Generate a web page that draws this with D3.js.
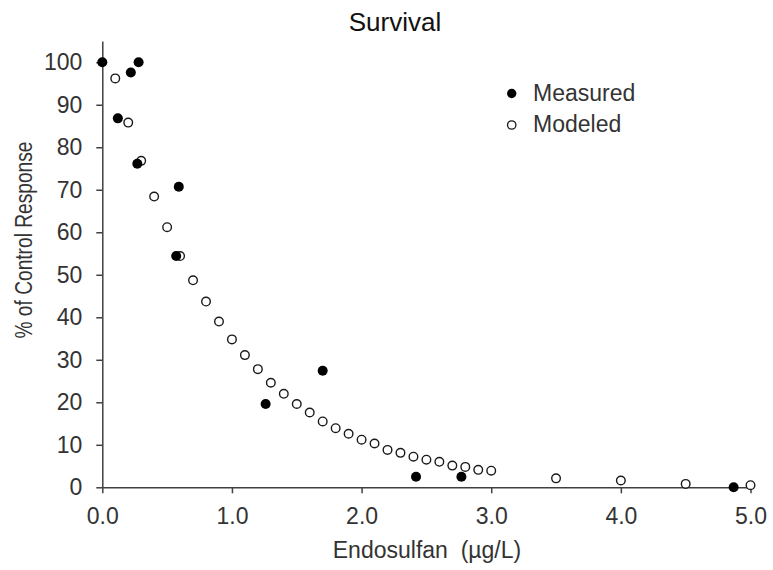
<!DOCTYPE html>
<html>
<head>
<meta charset="utf-8">
<script src="https://cdn.jsdelivr.net/npm/d3@7"></script>
<style>
  html, body { margin: 0; padding: 0; background: #fff; }
  svg { display: block; }
  text { font-family: "Liberation Sans", Arial, sans-serif; }
</style>
</head>
<body>
<svg id="chart" width="773" height="570"></svg>
<script>
// ---- data ----
const measuredX = [0, 0.12, 0.22, 0.28, 0.27, 0.59, 0.57, 1.26, 1.70, 2.42, 2.77, 4.87];
const measuredY = [100, 86.8, 97.6, 100, 76.1, 70.7, 54.4, 19.6, 27.4, 2.5, 2.5, 0];

const modeledX = [0.1, 0.2, 0.3, 0.4, 0.5, 0.6, 0.7, 0.8, 0.9, 1.0,
                  1.1, 1.2, 1.3, 1.4, 1.5, 1.6, 1.7, 1.8, 1.9, 2.0,
                  2.1, 2.2, 2.3, 2.4, 2.5, 2.6, 2.7, 2.8, 2.9, 3.0,
                  3.5, 4.0, 4.5, 5.0];
const modeledY = [96.2, 85.8, 76.8, 68.4, 61.2, 54.4, 48.7, 43.7, 39.0, 34.8,
                  31.1, 27.8, 24.6, 22.0, 19.6, 17.6, 15.5, 13.9, 12.6, 11.2,
                  10.3, 8.8, 8.1, 7.2, 6.5, 6.0, 5.1, 4.8, 4.1, 3.9,
                  2.1, 1.6, 0.8, 0.5];

const xTicks = [0, 1, 2, 3, 4, 5];
const yTicks = [0, 10, 20, 30, 40, 50, 60, 70, 80, 90, 100];

const titleText = "Survival";
const xLabel = "Endosulfan  (\u00B5g/L)";
const yLabel = "% of Control Response";
const seriesNames = ["Measured", "Modeled"];

// ---- drawing ----
const svg = d3.select("#chart");
const axisColor = "#404040";
const textColor = "#333333";

const x = d3.scaleLinear().domain([0, 5]).range([102.3, 750.5]);
const y = d3.scaleLinear().domain([0, 105]).range([487.3, 41]);

const measured = measuredX.map((v, i) => ({x: v, y: measuredY[i]}));
const modeled = modeledX.map((v, i) => ({x: v, y: modeledY[i]}));

// x axis
const gx = svg.append("g")
  .attr("transform", `translate(0,${y(0)})`)
  .call(d3.axisBottom(x).tickValues(xTicks).tickFormat(d3.format(".1f"))
        .tickSize(6).tickSizeOuter(0).tickPadding(14));
// y axis
const gy = svg.append("g")
  .attr("transform", `translate(${x(0)},0)`)
  .call(d3.axisLeft(y).tickValues(yTicks).tickFormat(d3.format("d"))
        .tickSize(6).tickSizeOuter(0).tickPadding(14));

[gx, gy].forEach(g => {
  g.select(".domain").attr("stroke", axisColor).attr("stroke-width", 1.5);
  g.selectAll(".tick line").attr("stroke", axisColor).attr("stroke-width", 1.5);
  g.selectAll(".tick text").attr("fill", textColor)
    .style("font-family", "'Liberation Sans', Arial, sans-serif")
    .style("font-size", "23px");
});

// points: modeled (open) then measured (filled)
svg.append("g").selectAll("circle").data(modeled).join("circle")
  .attr("cx", d => x(d.x)).attr("cy", d => y(d.y)).attr("r", 4.3)
  .attr("fill", "#fff").attr("stroke", "#1a1a1a").attr("stroke-width", 1.4);

svg.append("g").selectAll("circle").data(measured).join("circle")
  .attr("cx", d => x(d.x)).attr("cy", d => y(d.y)).attr("r", 5)
  .attr("fill", "#000");

// title
svg.append("text")
  .attr("x", 395).attr("y", 31)
  .attr("text-anchor", "middle")
  .attr("fill", "#111")
  .style("font-size", "26px")
  .text(titleText);

// x label
svg.append("text")
  .attr("x", 427).attr("y", 558)
  .attr("text-anchor", "middle")
  .attr("fill", textColor)
  .style("font-size", "23px")
  .style("white-space", "pre")
  .text(xLabel);

// y label
svg.append("text")
  .attr("transform", "translate(31.5,240) rotate(-90)")
  .attr("text-anchor", "middle")
  .attr("fill", textColor)
  .attr("textLength", 197)
  .attr("lengthAdjust", "spacingAndGlyphs")
  .style("font-size", "23px")
  .text(yLabel);

// legend
const legend = svg.append("g");
legend.append("circle").attr("cx", 511.7).attr("cy", 93.5).attr("r", 4.7).attr("fill", "#000");
legend.append("circle").attr("cx", 511.7).attr("cy", 125).attr("r", 4.2)
  .attr("fill", "#fff").attr("stroke", "#1a1a1a").attr("stroke-width", 1.3);
legend.append("text").attr("x", 533).attr("y", 101).attr("fill", textColor)
  .style("font-size", "23px").text(seriesNames[0]);
legend.append("text").attr("x", 533).attr("y", 132).attr("fill", textColor)
  .style("font-size", "23px").text(seriesNames[1]);
</script>
</body>
</html>
